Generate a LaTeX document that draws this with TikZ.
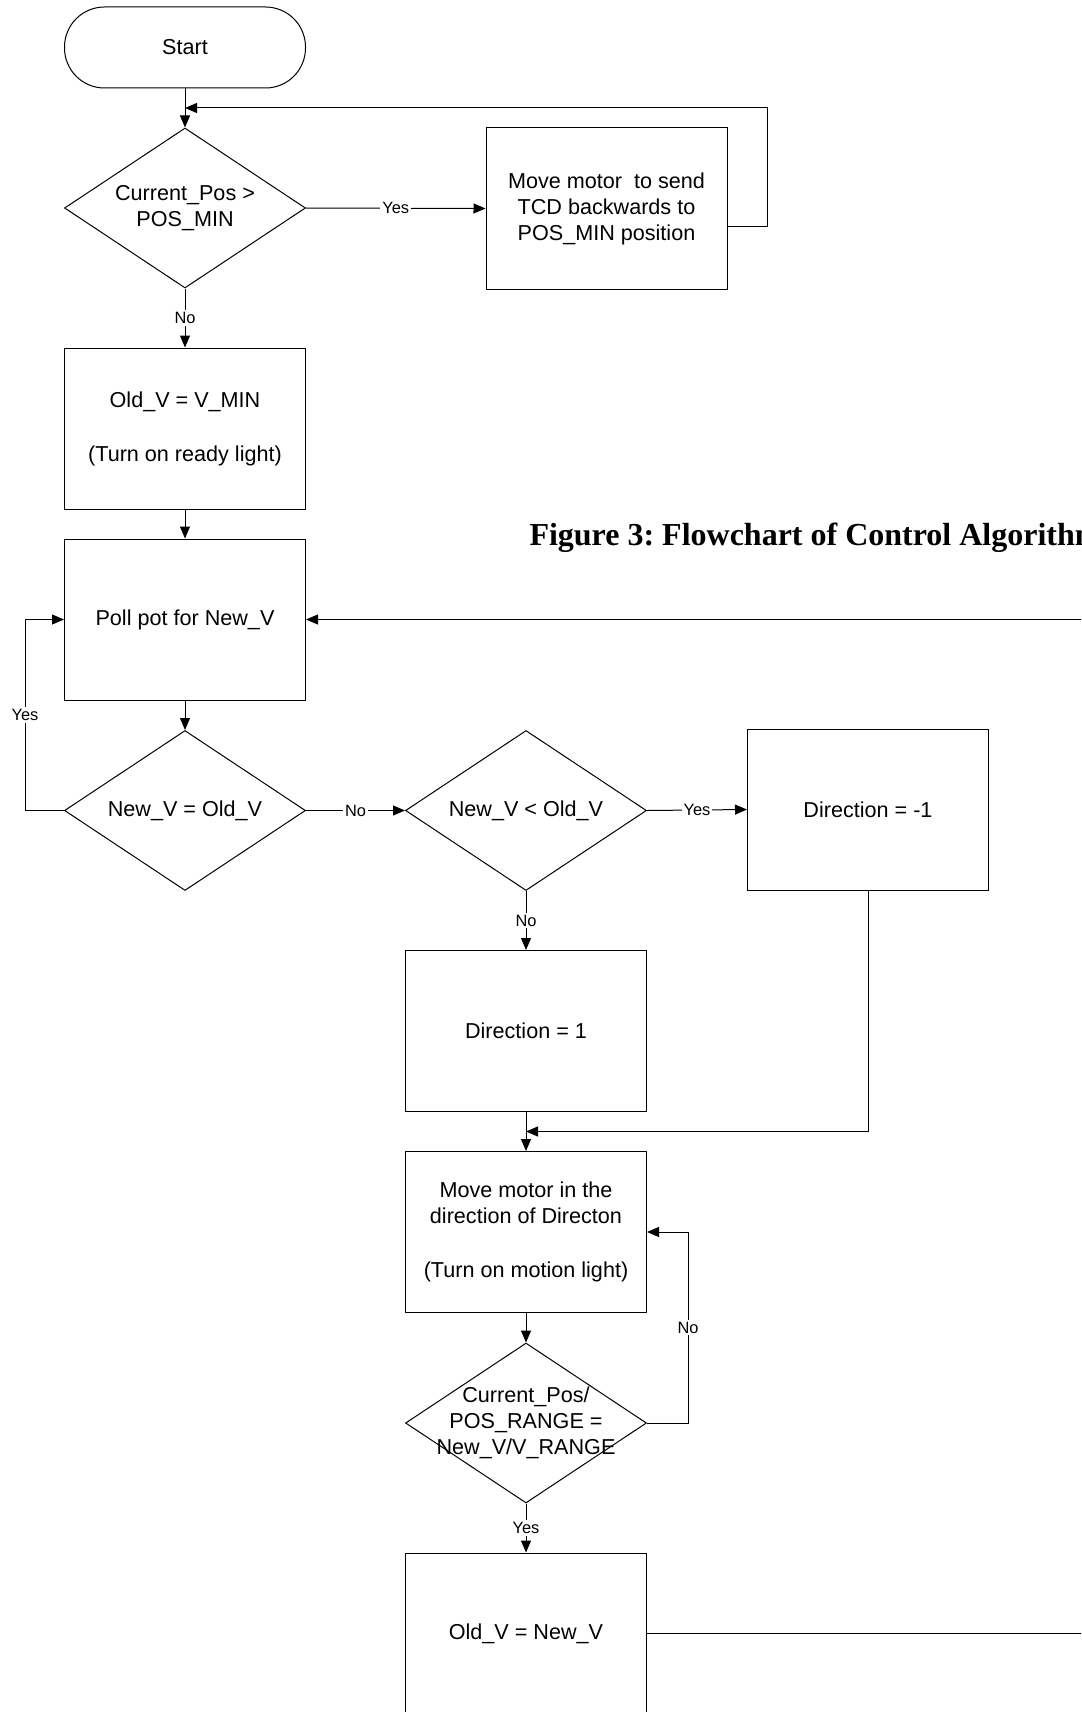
\documentclass[tikz,border=0pt]{standalone}
\usepackage{fontspec}
\setmainfont{Liberation Sans}
\newfontfamily\figfont{Liberation Serif}
\usetikzlibrary{arrows.meta, shapes.geometric, positioning, calc}

\begin{document}
\begin{tikzpicture}[x=0.5pt, y=-0.5pt, line width=0.5pt,
  >={Triangle[length=6pt, width=5pt]},
  box/.style={draw, rectangle, minimum width=120.5pt, minimum height=80.5pt,
    inner sep=0pt, align=center, font=\fontsize{10.8}{13}\selectfont},
  terminal/.style={box, rounded corners=20pt, minimum height=40.5pt},
  decision/.style={draw, diamond, minimum width=120.5pt, minimum height=80pt, inner sep=0pt},
  dtext/.style={align=center, font=\fontsize{10.8}{13}\selectfont},
  tag/.style={fill=white, inner sep=1pt, font=\fontsize{8.2}{9}\selectfont},
  caption/.style={font={\figfont\bfseries\fontsize{16}{18}\selectfont}, inner sep=0pt}]

  \useasboundingbox (0,0) rectangle (1081,1712);
  \clip (0,0) rectangle (1081,1712);

  % Start and homing
  \node[terminal] (start) at (185,47.5) {Start};
  \node[decision, label={[dtext]center:Current\_Pos >\\POS\_MIN}] (posmin) at (185,208) {};
  \node[box] (back) at (606.5,208.5) {Move motor~ to send\\TCD backwards to\\POS\_MIN position};
  \node[box] (init) at (185,428.5) {Old\_V = V\_MIN\\[14pt](Turn on ready light)};

  \node[caption, anchor=base west] (title) at (529,545) {Figure 3:\ Flowchart of Control Algorithm};

  % Polling
  \node[box] (poll) at (185,619.5) {Poll pot for New\_V};
  \node[decision, label={[dtext]center:New\_V = Old\_V}] (eqtest) at (185,810.5) {};
  \node[decision, label={[dtext]center:New\_V < Old\_V}] (lttest) at (526,810.5) {};
  \node[box] (dirneg) at (868,809.5) {Direction = -1};
  \node[box] (dirpos) at (526,1031) {Direction = 1};

  % Moving
  \node[box] (move) at (526,1232) {Move motor in the\\direction of Directon\\[14pt](Turn on motion light)};
  \node[decision, label={[dtext]center:Current\_Pos/\\POS\_RANGE =\\New\_V/V\_RANGE}] (rangetest) at (526,1423) {};
  \node[box] (update) at (526,1633.5) {Old\_V = New\_V};

  % Connectors
  \coordinate (joinA) at ($(start.south)!0.5!(posmin.north)$);
  \coordinate (joinB) at ($(dirpos.south)!0.5!(move.north)$);

  \draw[->] (start.south) -- (posmin.north);
  \draw[->] (posmin.east) -- node[tag]{Yes} (back.west);
  \draw[->] ([yshift=-9.25pt]back.east) -- ++(40,0) |- (joinA);
  \draw[->] (posmin.south) -- node[tag]{No} (init.north);
  \draw[->] (init.south) -- (poll.north);
  \draw[->] (poll.south) -- (eqtest.north);
  \draw[->] (eqtest.west) -- ++(-39,0) |- node[tag, pos=0.25]{Yes} (poll.west);
  \draw[->] (eqtest.east) -- node[tag]{No} (lttest.west);
  \draw[->] (lttest.east) -- node[tag]{Yes} (dirneg.west);
  \draw[->] (lttest.south) -- node[tag]{No} (dirpos.north);
  \draw[->] (dirpos.south) -- (move.north);
  \draw[->] (dirneg.south) |- (joinB);
  \draw[->] (move.south) -- (rangetest.north);
  \draw[->] (rangetest.east) -- ++(41,0) |- node[tag, pos=0.25]{No} (move.east);
  \draw[->] (rangetest.south) -- node[tag]{Yes} (update.north);
  \draw[->] (update.east) -- ++(480,0) |- (poll.east);

\end{tikzpicture}
\end{document}
